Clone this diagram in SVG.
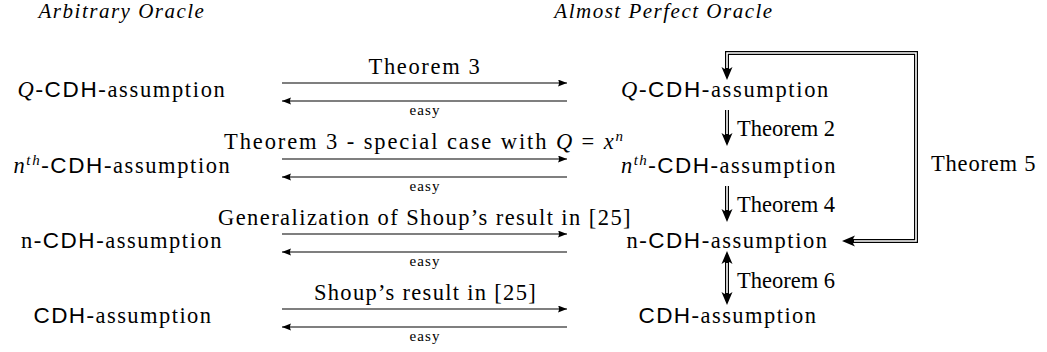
<svg xmlns="http://www.w3.org/2000/svg" xmlns:xlink="http://www.w3.org/1999/xlink" width="1047" height="352" viewBox="0 0 1047 352">
<style>
text{font-family:"Liberation Serif","Times New Roman",serif;font-size:22.5px;fill:#000}
.hd{font-style:italic;font-size:21px;letter-spacing:1.5px}
.it{font-style:italic}
.ss{font-family:"Liberation Sans",Arial,sans-serif}
.sup{font-size:15px}
.sm{font-size:15px;letter-spacing:1.1px}
.n{text-anchor:middle}
.h{stroke:#000;stroke-width:1.1;fill:none}
.dbo{stroke:#000;stroke-width:4;fill:none}
.dbi{stroke:#fff;stroke-width:1.6;fill:none}
</style>
<defs>
<marker id="ah" markerUnits="userSpaceOnUse" markerWidth="10" markerHeight="8" refX="9" refY="3.5" orient="auto">
<path d="M0,0 L9,3.5 L0,7 Q2,3.5 0,0 Z" fill="#000"/>
</marker>
<path id="dh" d="M0,0 L-5.5,-13 Q0,-8.5 5.5,-13 Z" fill="#000"/>
</defs>

<g id="head-left"><text class="hd n" x="122" y="17.5">Arbitrary Oracle</text></g>
<g id="head-right"><text class="hd n" x="664" y="17.5">Almost Perfect Oracle</text></g>

<g id="L-QCDH"><text class="n" x="122" y="97" letter-spacing="1.65"><tspan class="it">Q</tspan>-<tspan class="ss">CDH</tspan>-assumption</text></g>
<g id="L-nthCDH"><text class="n" x="122.5" y="173" letter-spacing="1.6"><tspan class="it">n</tspan><tspan class="it sup" dy="-8">th</tspan><tspan dy="8">-</tspan><tspan class="ss">CDH</tspan>-assumption</text></g>
<g id="L-nCDH"><text class="n" x="122" y="248" letter-spacing="1.53">n-<tspan class="ss">CDH</tspan>-assumption</text></g>
<g id="L-CDH"><text class="n" x="123" y="323" letter-spacing="1.45"><tspan class="ss">CDH</tspan>-assumption</text></g>

<g id="R-QCDH"><text class="n" x="725.5" y="97" letter-spacing="1.65"><tspan class="it">Q</tspan>-<tspan class="ss">CDH</tspan>-assumption</text></g>
<g id="R-nthCDH"><text class="n" x="729" y="173" letter-spacing="1.5"><tspan class="it">n</tspan><tspan class="it sup" dy="-8">th</tspan><tspan dy="8">-</tspan><tspan class="ss">CDH</tspan>-assumption</text></g>
<g id="R-nCDH"><text class="n" x="727.5" y="248" letter-spacing="1.53">n-<tspan class="ss">CDH</tspan>-assumption</text></g>
<g id="R-CDH"><text class="n" x="728" y="323" letter-spacing="1.45"><tspan class="ss">CDH</tspan>-assumption</text></g>

<g id="connectors">
<line class="h" x1="282" y1="83" x2="567" y2="83" marker-end="url(#ah)"/>
<line class="h" x1="567" y1="101" x2="282" y2="101" marker-end="url(#ah)"/>
<text class="n" x="425" y="74" letter-spacing="1.65">Theorem 3</text>
<text class="n sm" x="425" y="115">easy</text>

<line class="h" x1="282" y1="159" x2="567" y2="159" marker-end="url(#ah)"/>
<line class="h" x1="567" y1="177" x2="282" y2="177" marker-end="url(#ah)"/>
<text class="n" x="424.5" y="149" letter-spacing="1.9">Theorem 3 - special case with <tspan class="it">Q</tspan> = <tspan class="it">x</tspan><tspan class="it sup" dy="-8">n</tspan></text>
<text class="n sm" x="425" y="191">easy</text>

<line class="h" x1="282" y1="234" x2="567" y2="234" marker-end="url(#ah)"/>
<line class="h" x1="567" y1="252" x2="282" y2="252" marker-end="url(#ah)"/>
<text class="n" x="425" y="225" letter-spacing="1.43">Generalization of Shoup’s result in [25]</text>
<text class="n sm" x="425" y="266">easy</text>

<line class="h" x1="282" y1="309" x2="567" y2="309" marker-end="url(#ah)"/>
<line class="h" x1="567" y1="327" x2="282" y2="327" marker-end="url(#ah)"/>
<text class="n" x="425.5" y="300" letter-spacing="1.3">Shoup’s result in [25]</text>
<text class="n sm" x="425" y="341">easy</text>

<path class="dbo" d="M727,110 V137"/>
<path class="dbi" d="M727,110 V134"/>
<use xlink:href="#dh" transform="translate(727,146)"/>
<text x="737" y="136">Theorem 2</text>

<path class="dbo" d="M727,186 V213"/>
<path class="dbi" d="M727,186 V210"/>
<use xlink:href="#dh" transform="translate(727,222)"/>
<text x="737" y="212">Theorem 4</text>

<path class="dbo" d="M727,260 V296"/>
<path class="dbi" d="M727,263 V293"/>
<use xlink:href="#dh" transform="translate(727,251) rotate(180)"/>
<use xlink:href="#dh" transform="translate(727,305)"/>
<text x="737" y="288">Theorem 6</text>

<path class="dbo" d="M851,241 H916 V53 H727 V71"/>
<path class="dbi" d="M854,241 H916 V53 H727 V68"/>
<use xlink:href="#dh" transform="translate(727,80)"/>
<use xlink:href="#dh" transform="translate(842,241) rotate(90)"/>
<text x="931" y="171" letter-spacing="0.8">Theorem 5</text>
</g>
</svg>
